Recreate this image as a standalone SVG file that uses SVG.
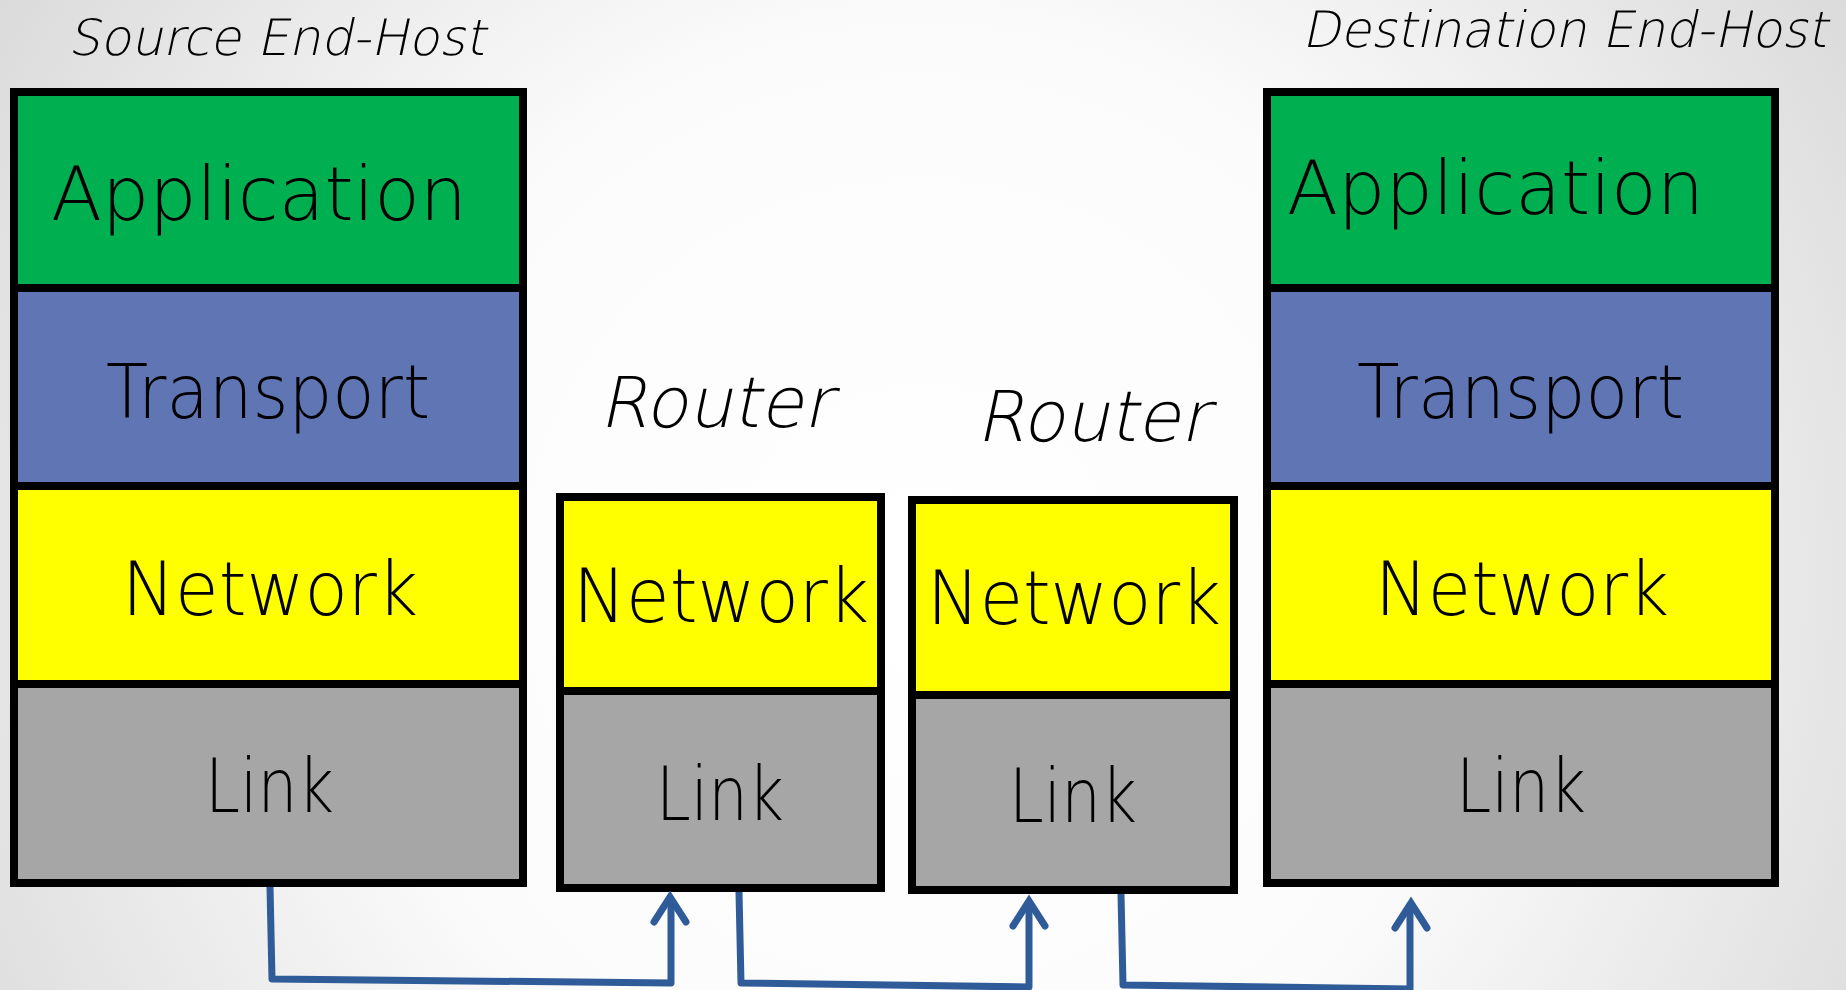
<svg xmlns="http://www.w3.org/2000/svg" width="1846" height="990" viewBox="0 0 1846 990">
<defs>
<radialGradient id="bg" gradientUnits="userSpaceOnUse" cx="923" cy="580" r="1100">
<stop offset="0" stop-color="#ffffff"/>
<stop offset="0.5" stop-color="#fbfbfb"/>
<stop offset="1" stop-color="#dadada"/>
</radialGradient>
</defs>
<style>
.lay{stroke:#000;stroke-width:8}
.app{fill:#00B050}.tr{fill:#6076B4}.net{fill:#FFFF00}.lnk{fill:#A6A6A6}
.t{font-family:"DejaVu Sans","Liberation Sans",sans-serif;font-weight:200;fill:#000;font-size:75px}
.ti{font-family:"DejaVu Sans","Liberation Sans",sans-serif;font-weight:200;fill:#000}
.conn{fill:none;stroke:#2F5B99;stroke-width:7;stroke-linejoin:round;stroke-linecap:butt}
.hd{fill:none;stroke:#2F5B99;stroke-width:7;stroke-linejoin:miter;stroke-linecap:round}
</style>
<rect width="1846" height="990" fill="url(#bg)"/>

<g id="source-title" transform="translate(68,55) skewX(-12)"><text class="ti" x="0" y="0" font-size="50" textLength="417" lengthAdjust="spacingAndGlyphs">Source End-Host</text></g>
<g id="dest-title" transform="translate(1302,47) skewX(-12)"><text class="ti" x="0" y="0" font-size="50" textLength="525" lengthAdjust="spacingAndGlyphs">Destination End-Host</text></g>
<g id="router1-title" transform="translate(599,427) skewX(-12)"><text class="ti" x="0" y="0" font-size="70" textLength="233" lengthAdjust="spacingAndGlyphs">Router</text></g>
<g id="router2-title" transform="translate(976,441) skewX(-12)"><text class="ti" x="0" y="0" font-size="70" textLength="233" lengthAdjust="spacingAndGlyphs">Router</text></g>

<g id="source-host">
<rect class="lay app" x="14" y="92" width="509" height="196"/>
<rect class="lay tr" x="14" y="288" width="509" height="198"/>
<rect class="lay net" x="14" y="486" width="509" height="198"/>
<rect class="lay lnk" x="14" y="684" width="509" height="199"/>
<text class="t" x="51" y="220" textLength="416" lengthAdjust="spacingAndGlyphs">Application</text>
<text class="t" x="106" y="418" textLength="324" lengthAdjust="spacingAndGlyphs">Transport</text>
<text class="t" x="122" y="615" textLength="296" lengthAdjust="spacingAndGlyphs">Network</text>
<text class="t" x="205" y="812" textLength="129" lengthAdjust="spacingAndGlyphs">Link</text>
</g>

<g id="router1">
<rect class="lay net" x="560" y="497" width="321" height="194"/>
<rect class="lay lnk" x="560" y="691" width="321" height="197"/>
<text class="t" x="573" y="622" textLength="296" lengthAdjust="spacingAndGlyphs">Network</text>
<text class="t" x="656" y="820" textLength="128" lengthAdjust="spacingAndGlyphs">Link</text>
</g>

<g id="router2">
<rect class="lay net" x="912" y="500" width="322" height="195"/>
<rect class="lay lnk" x="912" y="695" width="322" height="195"/>
<text class="t" x="927" y="624" textLength="294" lengthAdjust="spacingAndGlyphs">Network</text>
<text class="t" x="1009" y="822" textLength="128" lengthAdjust="spacingAndGlyphs">Link</text>
</g>

<g id="dest-host">
<rect class="lay app" x="1267" y="92" width="508" height="196"/>
<rect class="lay tr" x="1267" y="288" width="508" height="198"/>
<rect class="lay net" x="1267" y="486" width="508" height="198"/>
<rect class="lay lnk" x="1267" y="684" width="508" height="199"/>
<text class="t" x="1287" y="214" textLength="417" lengthAdjust="spacingAndGlyphs">Application</text>
<text class="t" x="1357" y="418" textLength="327" lengthAdjust="spacingAndGlyphs">Transport</text>
<text class="t" x="1375" y="615" textLength="294" lengthAdjust="spacingAndGlyphs">Network</text>
<text class="t" x="1456" y="812" textLength="130" lengthAdjust="spacingAndGlyphs">Link</text>
</g>

<g id="connectors">
<polyline class="conn" points="270,887 272,979 671,983 671,898"/>
<polyline class="hd" points="654,922 670,897 686,922"/>
<polyline class="conn" points="739,892 741,983 1029,987 1029,902"/>
<polyline class="hd" points="1013,926 1029,901 1045,926"/>
<polyline class="conn" points="1121,894 1123,985 1410,989 1410,904"/>
<polyline class="hd" points="1395,928 1411,903 1427,928"/>
</g>
</svg>
